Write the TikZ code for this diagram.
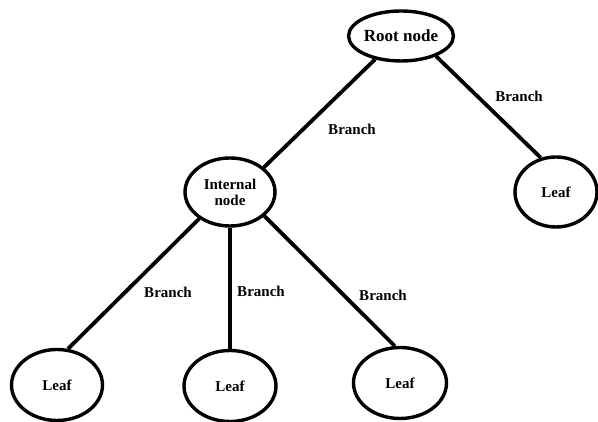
\documentclass[tikz,border=0pt]{standalone}
\usepackage{fontspec}
\setmainfont{Liberation Serif}
\usetikzlibrary{shapes.geometric}
\begin{document}
\begin{tikzpicture}[x=1pt,y=1pt,
  treenode/.style={ellipse,draw,line width=3.4pt,inner sep=0pt,font=\bfseries\fontsize{15}{16}\selectfont,align=center},
  edge/.style={line width=3.8pt},
  lbl/.style={font=\bfseries\fontsize{15}{16}\selectfont,inner sep=0pt}]
\useasboundingbox (0,0) rectangle (598,422);
\node[treenode,minimum width=97pt,minimum height=50pt,font=\bfseries\fontsize{17}{18}\selectfont] (root) at (401,386) {Root node};
\node[treenode,minimum width=82pt,minimum height=70pt] (rleaf) at (556,230) {Leaf};
\node[treenode,minimum width=90pt,minimum height=68pt] (int) at (230,230) {Internal\\node};
\node[treenode,minimum width=91pt,minimum height=71pt] (l1) at (57,37) {Leaf};
\node[treenode,minimum width=92pt,minimum height=71pt] (l2) at (230,36) {Leaf};
\node[treenode,minimum width=93pt,minimum height=71pt] (l3) at (400,39) {Leaf};
\draw[edge] (root.222) -- (int.36);
\draw[edge] (root.330) -- (rleaf.114);
\draw[edge] (int.221) -- (l1.73);
\draw[edge] (int.270) -- (l2.90);
\draw[edge] (int.325) -- (l3.98);
\node[lbl] (b1) at (352,293) {Branch};
\node[lbl] (b2) at (519,326) {Branch};
\node[lbl] (b3) at (168,130) {Branch};
\node[lbl] (b4) at (261,131) {Branch};
\node[lbl] (b5) at (383,127) {Branch};
\end{tikzpicture}
\end{document}
